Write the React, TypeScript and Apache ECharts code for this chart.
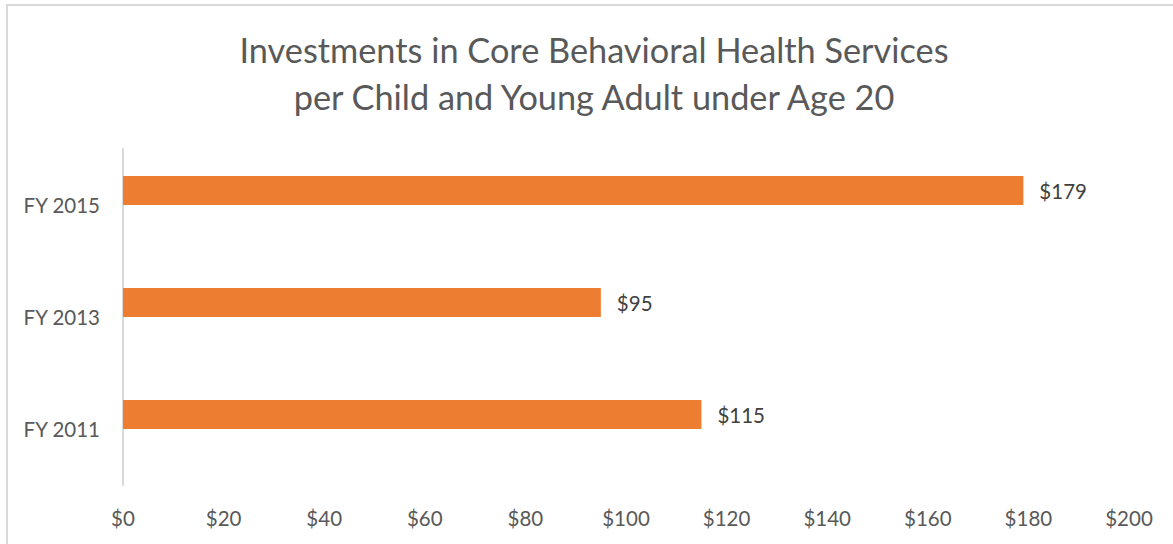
import React, { useEffect, useRef } from "react";
import * as echarts from "echarts";

const titleLines = [
  "Investments in Core Behavioral Health Services",
  "per Child and Young Adult under Age 20",
];
const categories = ["FY 2011", "FY 2013", "FY 2015"];
const values = [115, 95, 179];
const emptySeries = [null, null, null];
const xMin = 0;
const xMax = 200;
const xStep = 20;

export default function App() {
  const ref = useRef<HTMLDivElement>(null);
  useEffect(() => {
    document.body.style.margin = "0";
    const chart = echarts.init(ref.current!, null, { renderer: "svg" });
    const font = "Lato, 'Open Sans', sans-serif";
    chart.setOption({
      animation: false,
      backgroundColor: "#ffffff",
      title: {
        text: titleLines.join("\n"),
        left: 589,
        textAlign: "center",
        top: 21,
        textStyle: {
          fontFamily: font,
          fontSize: 34.3,
          fontWeight: "normal",
          color: "#595959",
          lineHeight: 47,
        },
      },
      graphic: [
        {
          type: "rect",
          shape: { x: 7, y: 5, width: 1180, height: 560 },
          style: { fill: "none", stroke: "#d9d9d9", lineWidth: 2 },
          silent: true,
        },
      ],
      grid: { left: 123, right: 44, top: 149, bottom: 59, containLabel: false },
      xAxis: {
        type: "value",
        min: xMin,
        max: xMax,
        interval: xStep,
        axisLine: { show: false },
        axisTick: { show: false },
        splitLine: { show: false },
        axisLabel: {
          formatter: (v: number) => "$" + v,
          fontFamily: font,
          fontSize: 20.5,
          color: "#595959",
          margin: 22,
        },
      },
      yAxis: {
        type: "category",
        data: categories,
        axisLine: { show: true, lineStyle: { color: "#d9d9d9", width: 2 } },
        axisTick: { show: false },
        axisLabel: {
          fontFamily: font,
          fontSize: 20.5,
          color: "#595959",
          margin: 23,
        },
      },
      series: [
        {
          type: "bar",
          data: values,
          barWidth: 29,
          barGap: "0%",
          itemStyle: { color: "#ED7D31" },
          label: {
            show: true,
            position: "right",
            distance: 16,
            formatter: (p: any) => "$" + p.value,
            fontFamily: font,
            fontSize: 20.5,
            color: "#404040",
          },
        },
        {
          type: "bar",
          data: emptySeries,
          barWidth: 29,
          barGap: "0%",
          itemStyle: { color: "transparent" },
        },
      ],
    });
    return () => chart.dispose();
  }, []);
  return (
    <div
      ref={ref}
      style={{ position: "absolute", left: 0, top: 0, width: 1173, height: 544 }}
    />
  );
}
